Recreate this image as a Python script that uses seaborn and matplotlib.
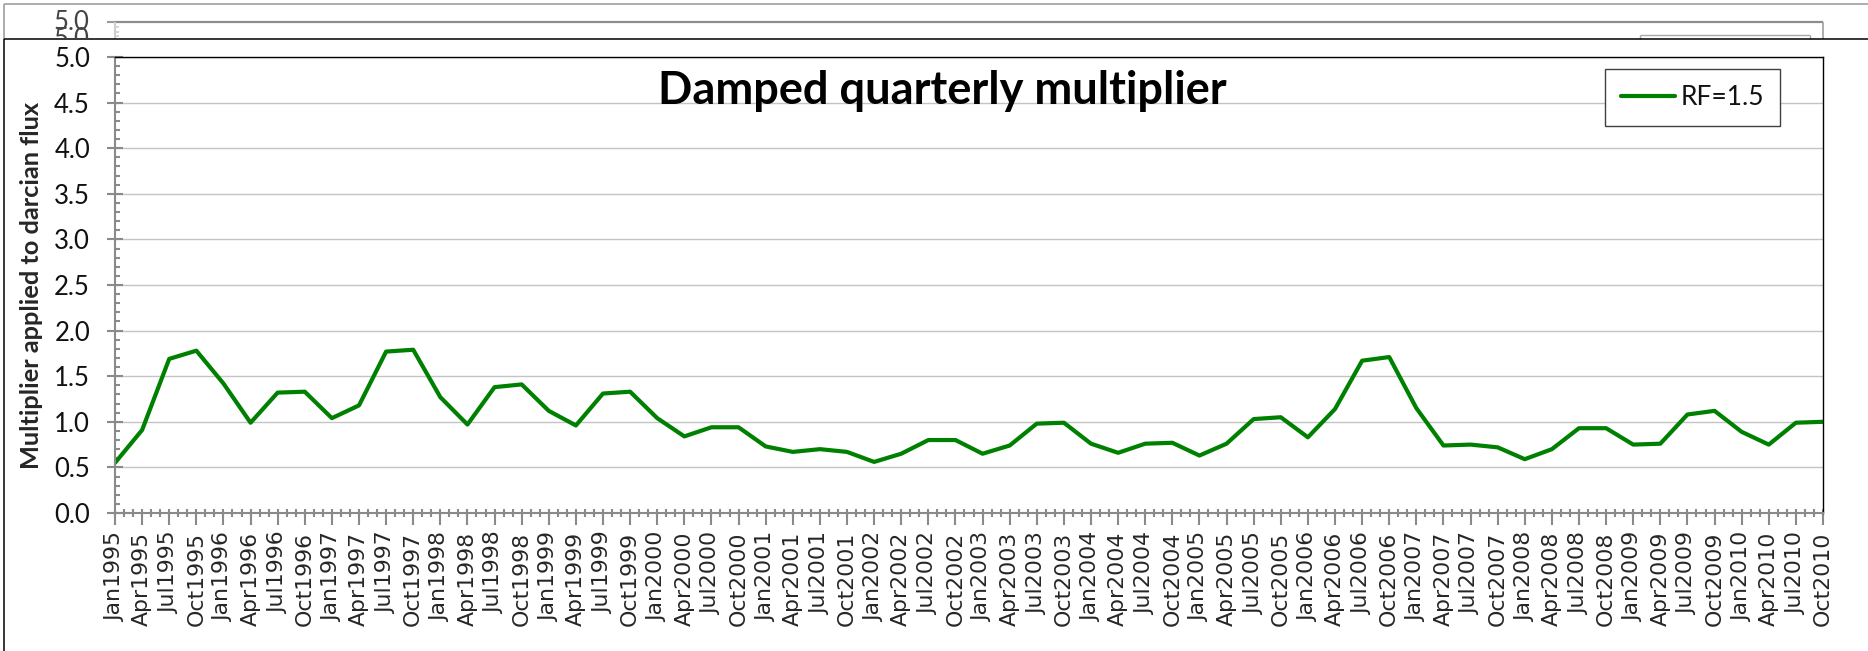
import numpy as np
import pandas as pd
import seaborn as sns
import matplotlib
matplotlib.use("Agg")
import matplotlib.pyplot as plt
from matplotlib.lines import Line2D
from matplotlib.ticker import MultipleLocator, FixedLocator
from matplotlib.transforms import Bbox

# ---------------- data ----------------
quarter_labels = [
    "Jan1995", "Apr1995", "Jul1995", "Oct1995", "Jan1996", "Apr1996", "Jul1996", "Oct1996",
    "Jan1997", "Apr1997", "Jul1997", "Oct1997", "Jan1998", "Apr1998", "Jul1998", "Oct1998",
    "Jan1999", "Apr1999", "Jul1999", "Oct1999", "Jan2000", "Apr2000", "Jul2000", "Oct2000",
    "Jan2001", "Apr2001", "Jul2001", "Oct2001", "Jan2002", "Apr2002", "Jul2002", "Oct2002",
    "Jan2003", "Apr2003", "Jul2003", "Oct2003", "Jan2004", "Apr2004", "Jul2004", "Oct2004",
    "Jan2005", "Apr2005", "Jul2005", "Oct2005", "Jan2006", "Apr2006", "Jul2006", "Oct2006",
    "Jan2007", "Apr2007", "Jul2007", "Oct2007", "Jan2008", "Apr2008", "Jul2008", "Oct2008",
    "Jan2009", "Apr2009", "Jul2009", "Oct2009", "Jan2010", "Apr2010", "Jul2010", "Oct2010",
]
rf15_values = [
    0.55, 0.91, 1.69, 1.78, 1.42, 0.99, 1.32, 1.33, 1.04, 1.18,
    1.77, 1.79, 1.27, 0.97, 1.38, 1.41, 1.12, 0.96, 1.31, 1.33,
    1.04, 0.84, 0.94, 0.94, 0.73, 0.67, 0.70, 0.67, 0.56, 0.65,
    0.80, 0.80, 0.65, 0.74, 0.98, 0.99, 0.76, 0.66, 0.76, 0.77,
    0.63, 0.76, 1.03, 1.05, 0.83, 1.14, 1.67, 1.71, 1.15, 0.74,
    0.75, 0.72, 0.59, 0.70, 0.93, 0.93, 0.75, 0.76, 1.08, 1.12,
    0.89, 0.75, 0.99, 1.00,
]
series_name = "RF=1.5"
y_ticks = [0.0, 0.5, 1.0, 1.5, 2.0, 2.5, 3.0, 3.5, 4.0, 4.5, 5.0]
title_text = "Damped quarterly multiplier"
ylabel_text = "Multiplier applied to darcian flux"

df = pd.DataFrame({"pos": np.arange(len(quarter_labels)), "value": rf15_values,
                   "series": series_name})

# ---------------- style ----------------
sns.set_style("white")
plt.rcParams["font.family"] = ["Lato", "DejaVu Sans"]

W, H = 1868, 651
DPI = 100
fig = plt.figure(figsize=(W / DPI, H / DPI), dpi=DPI)
fig.patch.set_facecolor("white")


def fx(px):
    return px / W


def fy(py):
    return 1 - py / H


# plot area in pixels: left 115, right 1823, top 57, bottom 513
ax = fig.add_axes([fx(115), fy(513), fx(1823) - fx(115), fy(57) - fy(513)])

sns.lineplot(data=df, x="pos", y="value", hue="series", palette=["#008000"],
             linewidth=3.0, ax=ax, legend=True)

ax.set_xlim(0, len(quarter_labels) - 1)
ax.set_ylim(0, 5)

# x ticks
ax.xaxis.set_major_locator(FixedLocator(np.arange(len(quarter_labels))))
ax.set_xticklabels(quarter_labels, rotation=90, fontfamily="DejaVu Sans",
                   fontsize=15.8, va="top", ha="center")
ax.xaxis.set_minor_locator(MultipleLocator(1 / 3))
ax.xaxis.remove_overlapping_locs = False
ax.tick_params(axis="x", which="major", direction="out", length=8.5, width=1.5,
               color="#8a8a8a", pad=5, bottom=True)
ax.tick_params(axis="x", which="minor", direction="inout", length=6, width=1.5,
               color="#8a8a8a", bottom=True)

# y ticks
ax.set_yticks(y_ticks)
ax.set_yticklabels([f"{t:.1f}" for t in y_ticks], fontsize=18.5, color="#111111")
ax.yaxis.set_minor_locator(MultipleLocator(0.1))
ax.tick_params(axis="y", which="major", direction="inout", length=12, width=1.5,
               color="#8a8a8a", pad=12, left=True)
ax.tick_params(axis="y", which="minor", direction="in", length=3.5, width=1.5,
               color="#8a8a8a", left=True)

ax.yaxis.grid(True, which="major", color="#c4c4c4", linewidth=1.0)
ax.xaxis.grid(False)
ax.set_axisbelow(True)

for s in ["left", "bottom"]:
    ax.spines[s].set_color("#8a8a8a")
    ax.spines[s].set_linewidth(1.5)
for s in ["top", "right"]:
    ax.spines[s].set_color("black")
    ax.spines[s].set_linewidth(1.0)
    ax.spines[s].set_visible(True)

ax.set_xlabel("")
ax.set_ylabel(ylabel_text, fontsize=18.3, fontweight="bold", va="center")
ax.yaxis.set_label_coords((32 - 115) / 1708, 0.5)

ax.text((942 - 115) / 1708, (513 - 104) / 456, title_text, transform=ax.transAxes,
        ha="center", va="baseline", fontsize=32.5, fontweight="bold", color="black")

leg = ax.legend(loc="upper right", bbox_to_anchor=(fx(1780), fy(69)),
                bbox_transform=fig.transFigure, borderaxespad=0, fontsize=19,
                frameon=True, fancybox=False, framealpha=1, handlelength=2.05,
                handletextpad=0.2, borderpad=0.6)
leg.get_frame().set_edgecolor("#404040")
leg.get_frame().set_linewidth(1.0)
for t in leg.get_texts():
    t.set_color("#111111")

# ---------------- background chart remnants (screenshot frame) ----------------
def fline(x0, y0, x1, y1, color, lw):
    fig.add_artist(Line2D([fx(x0), fx(x1)], [fy(y0), fy(y1)], transform=fig.transFigure,
                          color=color, linewidth=lw, solid_capstyle="butt"))


fline(4, 4.3, W, 4.3, "#a0a0a0", 1.2)
fline(4, 4, 4, 38.7, "#a0a0a0", 1.2)
fline(115, 22, 1823, 22, "#8c8c8c", 1.6)
fline(107, 22, 115, 22, "#9a9a9a", 1.5)
fline(115, 22, 115, 38.7, "#cfcfcf", 1.5)
for yy in (27, 31.5, 36):
    fline(115, yy, 119, yy, "#cfcfcf", 1.2)
fline(1823, 22, 1823, 38.7, "#a0a0a0", 1.2)
fline(1640, 35, 1810, 35, "#a8a8a8", 1.0)
fline(1640, 35, 1640, 38.7, "#a8a8a8", 1.0)
fline(1810, 35, 1810, 38.7, "#a8a8a8", 1.0)

ghost1 = fig.text(fx(89), fy(22.5), "5.0", ha="right", va="center", fontsize=18.5,
                  color="#444444")
ghost2 = fig.text(fx(89), fy(39.5), "5.0", ha="right", va="center", fontsize=18.5,
                  color="#444444")
ghost2.set_clip_box(Bbox([[0, H - 38.7], [W, H]]))
ghost2.set_clip_on(True)

# front chart outer frame
fline(4, 38.7, W, 38.7, "black", 1.1)
fline(4, 38.7, 4, H, "black", 1.1)

fig.savefig("out.png", dpi=DPI, facecolor="white")
